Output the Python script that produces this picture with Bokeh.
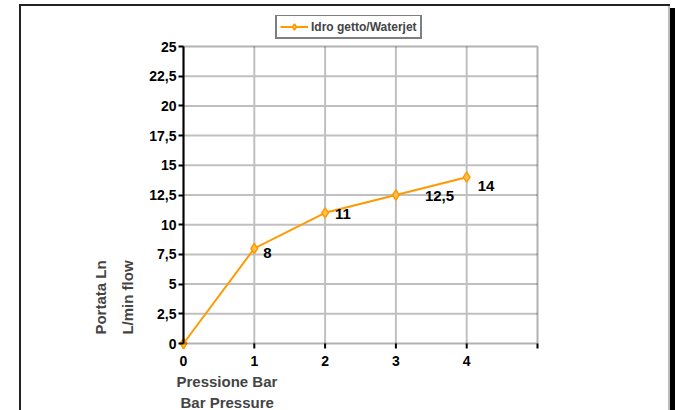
from bokeh.plotting import figure
from bokeh.models import (Range1d, FixedTicker, CustomJSTickFormatter, Legend, LegendItem,
                          Title, Label, BoxAnnotation, ColumnDataSource)
from bokeh.core.properties import value
from bokeh.embed import file_html
from bokeh.resources import INLINE
import math

# ---- data ----
pressure_bar = [0, 1, 2, 3, 4]
flow_lmin = [0, 8, 11, 12.5, 14]
point_labels = ["", "8", "11", "12,5", "14"]
series_name = "Idro getto/Waterjet"
x_ticks = [0, 1, 2, 3, 4, 5]
y_ticks = [0, 2.5, 5, 7.5, 10, 12.5, 15, 17.5, 20, 22.5, 25]
x_title = ["Pressione Bar", "Bar Pressure"]
y_title = ["Portata Ln", "L/min flow"]
x_max, y_max = 5, 25

# label pixel offsets (layout only)
lab_dx = [0, 9, 10, 29, 11]
lab_dy = [0, 5, 1, 1, 9]

FONT = "Liberation Sans"
ORANGE = "#FF9900"

# layout (pixels)
PX_X = 354 / x_max          # px per x unit
PX_Y = 297 / y_max          # px per y unit
AX_LEFT, AX_BOTTOM = 183, 343
F_LEFT, F_TOP, F_RIGHT, F_BOTTOM = 60, 15, 539, 352
TICK = 5

x0 = -(AX_LEFT - F_LEFT) / PX_X
x1 = (F_RIGHT - AX_LEFT) / PX_X
y0 = -(F_BOTTOM - AX_BOTTOM) / PX_Y
y1 = (AX_BOTTOM - F_TOP) / PX_Y

p = figure(frame_width=F_RIGHT - F_LEFT, frame_height=F_BOTTOM - F_TOP,
           min_border_left=F_LEFT, min_border_right=675 - F_RIGHT,
           min_border_top=F_TOP, min_border_bottom=410 - F_BOTTOM,
           x_range=Range1d(x0, x1), y_range=Range1d(y0, y1),
           output_backend="svg", toolbar_location=None,
           background_fill_color=None, border_fill_color=None)
# outer chart frame painted as the page element's background
p.styles = {"background": ", ".join([
    "linear-gradient(#222,#222) 19px 4px / 651px 2px no-repeat",
    "linear-gradient(#222,#222) 19px 4px / 2px 410px no-repeat",
    "linear-gradient(#bbb,#bbb) 668px 4px / 2px 410px no-repeat",
    "linear-gradient(#000,#000) 670px 8px / 5px 410px no-repeat",
    "white",
])}
p.outline_line_color = None
p.grid.visible = False

for ax in (p.xaxis[0], p.yaxis[0]):
    ax.axis_line_width = 2
    ax.axis_line_color = "black"
    ax.major_tick_line_width = 2
    ax.major_tick_line_color = "black"
    ax.major_tick_out = TICK
    ax.major_tick_in = 0
    ax.minor_tick_line_color = None
    ax.major_label_text_font = FONT
    ax.major_label_text_font_style = "bold"
    ax.major_label_text_font_size = "14px"
    ax.major_label_text_color = "black"

p.xaxis.ticker = FixedTicker(ticks=x_ticks)
p.yaxis.ticker = FixedTicker(ticks=y_ticks)
p.yaxis.bounds = (0, y_max)
p.yaxis.fixed_location = 0
p.yaxis.formatter = CustomJSTickFormatter(code="return tick.toString().replace('.', ',');")
p.yaxis.major_label_standoff = 2
# x axis keeps only its labels; its line and ticks are drawn at y = 0 below
p.xaxis.axis_line_color = None
p.xaxis.major_tick_line_color = None
p.xaxis.major_tick_out = 0
p.xaxis.major_label_standoff = 3
p.xaxis.major_label_overrides = {5: ""}

# gridlines through the data scales
gx = [t for t in x_ticks if 0 < t < x_max]
gy = [t for t in y_ticks if 0 < t < y_max]
p.segment(x0=gx, y0=[0] * len(gx), x1=gx, y1=[y_max] * len(gx), line_color="#C0C0C0", line_width=2)
p.segment(x0=[0] * len(gy), y0=gy, x1=[x_max] * len(gy), y1=gy, line_color="#C0C0C0", line_width=2)
# x tick marks
p.segment(x0=x_ticks, y0=[0] * len(x_ticks), x1=x_ticks, y1=[-TICK / PX_Y] * len(x_ticks),
          line_color="black", line_width=2)
# plot area border
p.add_layout(BoxAnnotation(left=0, right=x_max, bottom=0, top=y_max, fill_alpha=0,
                           line_color="black", line_width=2, level="glyph"))

src = ColumnDataSource(dict(x=pressure_bar, y=flow_lmin, t=point_labels, dx=lab_dx, dy=lab_dy))
lr = p.line("x", "y", source=src, line_color=ORANGE, line_width=2)
sr = p.scatter("x", "y", source=src, marker="diamond", size=10,
               line_color=ORANGE, fill_color="#FFC04D", line_width=1.5)
p.text("x", "y", text="t", source=src, x_offset="dx", y_offset="dy",
       text_font=value(FONT), text_font_style="bold", text_font_size="15px",
       text_align="left", text_baseline="middle", text_color="black")

legend = Legend(items=[LegendItem(label=series_name, renderers=[lr, sr])],
                location=(275 - F_LEFT, F_BOTTOM - 39), margin=0, padding=3, spacing=0,
                glyph_width=28, glyph_height=15, label_height=15, label_standoff=3,
                label_text_font=FONT, label_text_font_style="bold",
                label_text_font_size="12px", border_line_color="black",
                border_line_width=2, background_fill_color="white",
                background_fill_alpha=1)
p.add_layout(legend)

# y titles (inside the extended frame)
for i, t in enumerate(y_title):
    p.add_layout(Label(x=(100 + 27 * i - AX_LEFT) / PX_X, y=(AX_BOTTOM - 297) / PX_Y,
                       text=t, angle=math.pi / 2,
                       text_font=FONT, text_font_style="bold", text_font_size="15px",
                       text_align="center", text_baseline="middle"))

# x titles (below panel)
for t, off, st in zip(x_title, [176 - F_LEFT, 180 - F_LEFT], [4, 0]):
    p.add_layout(Title(text=t, align="left", offset=off, standoff=st,
                       text_font=FONT, text_font_style="bold", text_font_size="15px"), "below")

open("out.html", "w").write(file_html(p, INLINE))
